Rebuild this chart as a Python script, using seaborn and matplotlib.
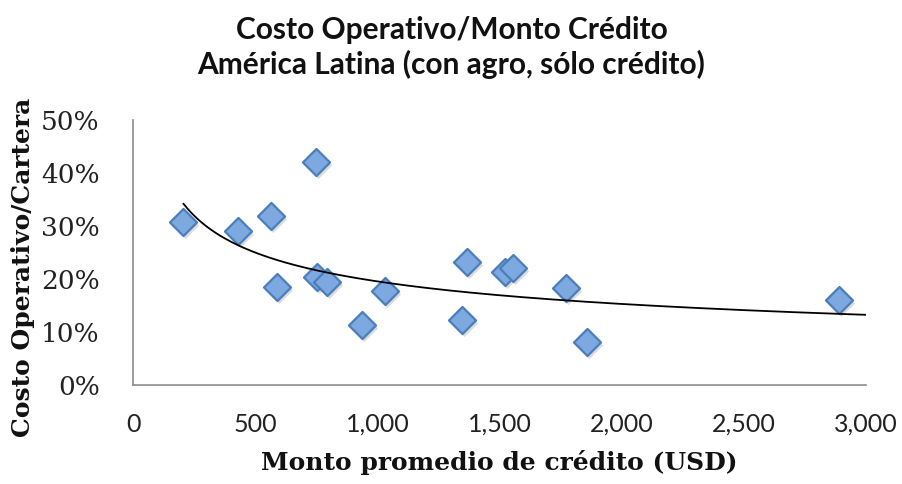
import matplotlib.pyplot as plt
import matplotlib.transforms as mtransforms
from matplotlib.ticker import PercentFormatter, FuncFormatter
import seaborn as sns
import pandas as pd
import numpy as np

# values
monto = [206, 431, 565, 588, 748, 752, 793, 939, 1031, 1345, 1368, 1523, 1557, 1772, 1860, 2891]
costo = [0.307, 0.291, 0.319, 0.185, 0.421, 0.204, 0.195, 0.113, 0.177, 0.123, 0.232,
         0.214, 0.220, 0.184, 0.082, 0.160]
x_ticks = [0, 500, 1000, 1500, 2000, 2500, 3000]
y_ticks = [0.0, 0.1, 0.2, 0.3, 0.4, 0.5]

df = pd.DataFrame({'monto': monto, 'costo': costo})

sns.set_style('white')
plt.rcParams['font.family'] = ['Lato', 'DejaVu Sans']

fig = plt.figure(figsize=(9.03, 4.84), dpi=100)
ax = fig.add_axes([0.1473, 0.2045, 0.8117, 0.5475])

# soft shadow under the markers
shadow = mtransforms.offset_copy(ax.transData, fig=fig, x=2, y=-3, units='dots')
ax.scatter(df['monto'], df['costo'], marker='D', s=190, color='#9a9a9a',
           alpha=0.35, linewidths=0, transform=shadow, zorder=2)

sns.scatterplot(data=df, x='monto', y='costo', marker='D', s=190,
                color='#7ea8e0', edgecolor='#4a7ebb', linewidth=1.6, ax=ax, zorder=3)

# power trend line (like Excel's)
b, ln_a = np.polyfit(np.log(df['monto']), np.log(df['costo']), 1)
xs = np.linspace(df['monto'].min(), x_ticks[-1], 300)
ax.plot(xs, np.exp(ln_a) * xs ** b, color='black', linewidth=1.3, zorder=4)

ax.set_xlim(x_ticks[0], x_ticks[-1])
ax.set_ylim(y_ticks[0], y_ticks[-1])
ax.set_xticks(x_ticks)
ax.set_yticks(y_ticks)
ax.xaxis.set_major_formatter(FuncFormatter(lambda v, p: f'{v:,.0f}'))
ax.yaxis.set_major_formatter(PercentFormatter(1.0, decimals=0))

for s in ['top', 'right']:
    ax.spines[s].set_visible(False)
for s in ['left', 'bottom']:
    ax.spines[s].set_color('#8c8c8c')
    ax.spines[s].set_linewidth(1.2)

ax.tick_params(axis='x', direction='out', length=6, width=1.2, color='#8c8c8c',
               pad=14, labelsize=18, labelcolor='#222222')
ax.tick_params(axis='y', direction='out', length=7, width=1.2, color='#8c8c8c',
               pad=17, labelsize=19, labelcolor='#222222')
for lab in ax.get_yticklabels():
    lab.set_family(['DejaVu Serif'])
    lab.set_fontsize(19)

ax.set_xlabel('Monto promedio de crédito (USD)', family=['DejaVu Serif'],
              fontweight='bold', fontsize=18, color='#111111')
ax.set_ylabel('Costo Operativo/Cartera', family=['DejaVu Serif'],
              fontweight='bold', fontsize=18, color='#111111')
ax.xaxis.set_label_coords(0.5, -0.245)
ax.yaxis.set_label_coords(-0.134, 0.445)

fig.text(0.5, 1 - 30 / 484, 'Costo Operativo/Monto Crédito', ha='center', va='center',
         fontsize=21.5, fontweight='bold', color='#111111')
fig.text(0.5, 1 - 64 / 484, 'América Latina (con agro, sólo crédito)', ha='center', va='center',
         fontsize=21.5, fontweight='bold', color='#111111')

fig.savefig('out.png', dpi=100, facecolor='white')
